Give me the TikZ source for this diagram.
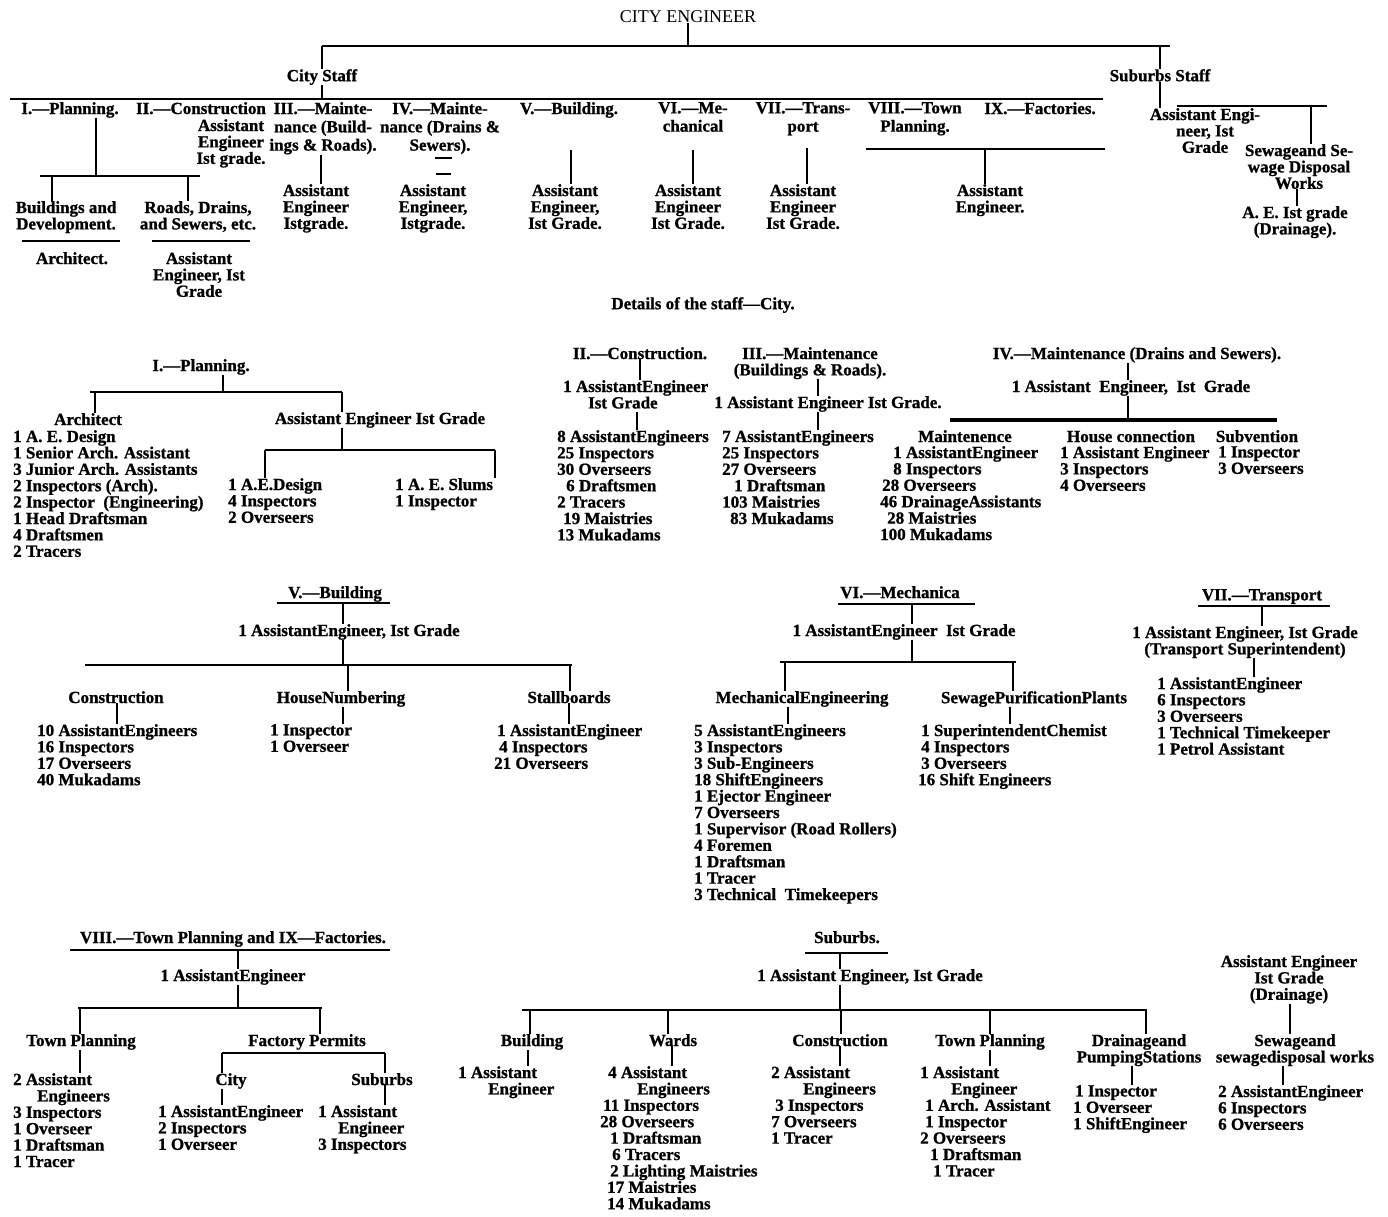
\documentclass[tikz,border=0pt]{standalone}
\usepackage{fontspec}
\setmainfont{Liberation Serif}[BoldFeatures={FakeBold=1}]
\tikzset{
 lbl/.style={inner sep=0pt, font=\fontsize{17}{16.4}\selectfont\bfseries, align=center, anchor=north},
 hdr/.style={lbl, font=\fontsize{17}{18.3}\selectfont\bfseries},
 lst/.style={lbl, align=left, anchor=north west},
 ln/.style={line width=2pt},
 bus/.style={line width=2.6pt},
}
\begin{document}
\begin{tikzpicture}[x=1pt,y=-1pt]
\path[use as bounding box, fill=white] (0,0) rectangle (1388,1216);

% ================= TOP CHART =================
\node[inner sep=0pt, font=\fontsize{18}{20}\selectfont] (ce) at (688,17) {CITY ENGINEER};
\coordinate (tl) at (322,46); \coordinate (tr) at (1170,46);
\draw[bus] (tl) -- (tr);
\draw[ln] (ce.south) -- (ce.south |- tl);
\node[lbl] (cs) at (322,69) {City Staff};
\node[lbl] (ss) at (1160,69) {Suburbs Staff};
\draw[ln] (tl) -- (cs.north);
\draw[ln] (ss.north |- tr) -- (ss.north);
\coordinate (cl) at (10,99); \coordinate (cr) at (1103,99);
\draw[bus] (cl) -- (cr);
\draw[ln] (cs.south) -- (cs.south |- cl);

\node[hdr] (d1) at (70,102) {I.—Planning.};
\node[hdr] (d2) at (201,102) {II.—Construction};
\node[lbl] (d2a) at (231,119) {Assistant\\Engineer\\Ist grade.};
\node[hdr] (d3) at (323,102) {III.—Mainte-\\nance (Build-\\ings \& Roads).};
\node[hdr] (d4) at (440,102) {IV.—Mainte-\\nance (Drains \&\\Sewers).};
\node[hdr] (d5) at (569,102) {V.—Building.};
\node[hdr] (d6) at (693,102) {VI.—Me-\\chanical};
\node[hdr] (d7) at (803,102) {VII.—Trans-\\port};
\node[hdr] (d8) at (915,102) {VIII.—Town\\Planning.};
\node[hdr] (d9) at (1040,102) {IX.—Factories.};

% I. Planning
\coordinate (p1j) at (96,176); \coordinate (p1l) at (40,176); \coordinate (p1r) at (200,176);
\coordinate (p1a) at (52,176); \coordinate (p1b) at (188,176);
\draw[ln] (p1j |- d1.south) -- (p1j);
\draw[bus] (p1l) -- (p1r);
\node[lbl] (bd) at (66,201) {Buildings and\\Development.};
\node[lbl] (rd) at (198,201) {Roads, Drains,\\and Sewers, etc.};
\draw[ln] (p1a) -- (p1a |- bd.north);
\draw[ln] (p1b) -- (p1b |- rd.north);
\coordinate (u1a) at (22,241); \coordinate (u1b) at (120,241);
\coordinate (u2a) at (152,241); \coordinate (u2b) at (250,241);
\draw[ln] (u1a) -- (u1b);
\draw[ln] (u2a) -- (u2b);
\node[lbl] (arch) at (72,252) {Architect.};
\node[lbl] (ae1) at (199,252) {Assistant\\Engineer, Ist\\Grade};

% III
\node[lbl] (ae3) at (316,184) {Assistant\\Engineer\\Istgrade.};
\coordinate (v3) at (321,150);
\draw[ln] (v3 |- d3.south) -- (v3 |- ae3.north);
% IV
\coordinate (k1a) at (435,158); \coordinate (k1b) at (452,158);
\coordinate (k2a) at (436,174); \coordinate (k2b) at (451,174);
\draw[ln] (k1a) -- (k1b);
\draw[line width=1.4pt] (k2a) -- (k2b);
\node[lbl] (ae4) at (433,184) {Assistant\\Engineer,\\Istgrade.};
% V
\node[lbl] (ae5) at (565,184) {Assistant\\Engineer,\\Ist Grade.};
\coordinate (v5) at (571,150);
\draw[ln] (v5) -- (v5 |- ae5.north);
% VI
\node[lbl] (ae6) at (688,184) {Assistant\\Engineer\\Ist Grade.};
\coordinate (v6) at (693,150);
\draw[ln] (v6) -- (v6 |- ae6.north);
% VII
\node[lbl] (ae7) at (803,184) {Assistant\\Engineer\\Ist Grade.};
\coordinate (v7) at (807,148);
\draw[ln] (v7) -- (v7 |- ae7.north);
% VIII / IX
\coordinate (b89l) at (866,149); \coordinate (b89r) at (1105,149);
\draw[bus] (b89l) -- (b89r);
\node[lbl] (ae89) at (990,184) {Assistant\\Engineer.};
\coordinate (v89) at (985,149);
\draw[ln] (v89) -- (v89 |- ae89.north);

% Suburbs staff
\node[lbl] (sae) at (1205,108) {Assistant Engi-\\neer, Ist\\Grade};
\draw[ln] (ss.south) -- (ss.south |- sae.north);
\coordinate (sbl) at (1177,106); \coordinate (sbr) at (1327,106); \coordinate (sbj) at (1311,106);
\draw[bus] (sbl) -- (sbr);
\node[lbl] (ssw) at (1299,144) {Sewageand Se-\\wage Disposal\\Works};
\draw[ln] (sbj) -- (sbj |- ssw.north);
\node[lbl] (sdr) at (1295,206) {A. E. Ist grade\\(Drainage).};
\draw[ln] ([xshift=-2pt]ssw.south) -- ([xshift=-2pt]ssw.south |- sdr.north);

\node[lbl] (det) at (703,297) {Details of the staff—City.};

% ================= I. PLANNING =================
\node[lbl] (s1h) at (201,359) {I.—Planning.};
\coordinate (s1j) at (223,392); \coordinate (s1l) at (90,392); \coordinate (s1r) at (342,392);
\coordinate (s1a) at (95,392);
\draw[ln] (s1j |- s1h.south) -- (s1j);
\draw[bus] (s1l) -- (s1r);
\node[lbl] (arc2) at (88,413) {Architect};
\draw[ln] (s1a) -- (s1a |- arc2.north);
\node[lst] (l1) at (13,430) {1 A. E. Design\\1 Senior Arch. Assistant\\3 Junior Arch. Assistants\\2 Inspectors (Arch).\\2 Inspector~~(Engineering)\\1 Head Draftsman\\4 Draftsmen\\2 Tracers};
\node[lbl] (aeg) at (380,412) {Assistant Engineer Ist Grade};
\draw[ln] (s1r) -- (s1r |- aeg.north);
\coordinate (s2j) at (342,450); \coordinate (s2l) at (265,450); \coordinate (s2r) at (495,450);
\draw[ln] (s2j |- aeg.south) -- (s2j);
\draw[bus] (s2l) -- (s2r);
\node[lst] (l2) at (228,478) {1 A.E.Design\\4 Inspectors\\2 Overseers};
\node[lst] (l3) at (395,478) {1 A. E. Slums\\1 Inspector};
\draw[ln] (s2l) -- (s2l |- l2.north);
\draw[ln] (s2r) -- (s2r |- l3.north);

% ================= II. CONSTRUCTION =================
\node[lbl] (s2h) at (640,347) {II.—Construction.};
\node[lst] (s2a) at (563,380) {1 AssistantEngineer\\\hspace*{25pt}Ist Grade};
\draw[ln] (s2h.south) -- (s2h.south |- s2a.north);
\node[lst] (l4) at (557,430) {8 AssistantEngineers\\25 Inspectors\\30 Overseers\\\hspace*{9pt}6 Draftsmen\\2 Tracers\\\hspace*{6pt}19 Maistries\\13 Mukadams};
\coordinate (v2b) at (637,412);
\draw[ln] (v2b) -- (v2b |- l4.north);

% ================= III. MAINTENANCE =================
\node[lbl] (s3h) at (810,347) {III.—Maintenance\\(Buildings \& Roads).};
\node[lbl] (s3a) at (828,396) {1 Assistant Engineer Ist Grade.};
\coordinate (v3a) at (818,380);
\draw[ln] (v3a |- s3h.south) -- (v3a |- s3a.north);
\node[lst] (l5) at (722,430) {7 AssistantEngineers\\25 Inspectors\\27 Overseers\\\hspace*{12pt}1 Draftsman\\103 Maistries\\\hspace*{8pt}83 Mukadams};
\draw[ln] (v3a |- s3a.south) -- (v3a |- l5.north);

% ================= IV. MAINTENANCE D&S =================
\node[lbl] (s4h) at (1137,347) {IV.—Maintenance (Drains and Sewers).};
\node[lbl] (s4a) at (1131,380) {1 Assistant~~Engineer,~~Ist~~Grade};
\coordinate (b4j) at (1128,420); \coordinate (b4l) at (950,420); \coordinate (b4r) at (1277,420);
\draw[ln] (b4j |- s4h.south) -- (b4j |- s4a.north);
\draw[ln] (b4j |- s4a.south) -- (b4j);
\draw[line width=3.2pt] (b4l) -- (b4r);
\node[lbl] (m1) at (965,430) {Maintenence};
\node[lst] (l6) at (880,446) {\hspace*{13pt}1 AssistantEngineer\\\hspace*{13pt}8 Inspectors\\\hspace*{2pt}28 Overseers\\46 DrainageAssistants\\\hspace*{7pt}28 Maistries\\100 Mukadams};
\node[lbl] (m2) at (1131,430) {House connection};
\node[lst] (l7) at (1060,446) {1 Assistant Engineer\\3 Inspectors\\4 Overseers};
\node[lbl] (m3) at (1257,430) {Subvention};
\node[lst] (l8) at (1218,446) {1 Inspector\\3 Overseers};

% ================= V. BUILDING =================
\node[lbl] (s5h) at (335,586) {V.—Building};
\coordinate (u5a) at (277,603); \coordinate (u5b) at (390,603); \coordinate (v5a) at (343,603);
\draw[ln] (u5a) -- (u5b);
\node[lbl] (s5a) at (349,624) {1 AssistantEngineer, Ist Grade};
\draw[ln] (v5a) -- (v5a |- s5a.north);
\coordinate (b5j) at (343,665); \coordinate (b5l) at (85,665); \coordinate (b5r) at (572,665);
\coordinate (b5a) at (348,665); \coordinate (b5b) at (570,665);
\draw[ln] (b5j |- s5a.south) -- (b5j);
\draw[bus] (b5l) -- (b5r);
\node[lbl] (c1) at (116,691) {Construction};
\node[lst] (l9) at (37,724) {10 AssistantEngineers\\16 Inspectors\\17 Overseers\\40 Mukadams};
\draw[ln] ([xshift=1pt]c1.south) -- ([xshift=1pt]c1.south |- l9.north);
\node[lbl] (c2) at (341,691) {HouseNumbering};
\draw[ln] (b5a) -- (b5a |- c2.north);
\node[lst] (l10) at (270,724) {1 Inspector\\1 Overseer};
\draw[ln] ([xshift=2pt]c2.south) -- ([xshift=2pt]c2.south |- l10.north);
\node[lbl] (c3) at (569,691) {Stallboards};
\draw[ln] (b5b) -- (b5b |- c3.north);
\node[lst] (l11) at (494,724) {\hspace*{3pt}1 AssistantEngineer\\\hspace*{5pt}4 Inspectors\\21 Overseers};
\draw[ln] (c3.south) -- (c3.south |- l11.north);

% ================= VI. MECHANICAL =================
\node[lbl] (s6h) at (900,586) {VI.—Mechanica};
\coordinate (u6a) at (838,604); \coordinate (u6b) at (975,604); \coordinate (v6a) at (912,604);
\draw[ln] (u6a) -- (u6b);
\node[lbl] (s6a) at (904,624) {1 AssistantEngineer~~Ist Grade};
\draw[ln] (v6a) -- (v6a |- s6a.north);
\coordinate (b6j) at (912,662); \coordinate (b6l) at (780,662); \coordinate (b6r) at (1016,662);
\coordinate (b6a) at (785,662); \coordinate (b6b) at (1013,662);
\draw[ln] (b6j |- s6a.south) -- (b6j);
\draw[bus] (b6l) -- (b6r);
\node[lbl] (c4) at (802,691) {MechanicalEngineering};
\draw[ln] (b6a) -- (b6a |- c4.north);
\node[lst] (l12) at (694,724) {5 AssistantEngineers\\3 Inspectors\\3 Sub-Engineers\\18 ShiftEngineers\\1 Ejector Engineer\\7 Overseers\\1 Supervisor (Road Rollers)\\4 Foremen\\1 Draftsman\\1 Tracer\\3 Technical~~Timekeepers};
\coordinate (v6c) at (788,705);
\draw[ln] (v6c |- c4.south) -- (v6c |- l12.north);
\node[lbl] (c5) at (1034,691) {SewagePurificationPlants};
\draw[ln] (b6b) -- (b6b |- c5.north);
\node[lst] (l13) at (918,724) {\hspace*{3pt}1 SuperintendentChemist\\\hspace*{3pt}4 Inspectors\\\hspace*{3pt}3 Overseers\\16 Shift Engineers};
\coordinate (v6d) at (1010,705);
\draw[ln] (v6d |- c5.south) -- (v6d |- l13.north);

% ================= VII. TRANSPORT =================
\node[lbl] (s7h) at (1262,589) {VII.—Transport};
\coordinate (u7a) at (1198,606); \coordinate (u7b) at (1330,606); \coordinate (v7a) at (1262,606);
\draw[ln] (u7a) -- (u7b);
\node[lbl] (s7a) at (1245,626) {1 Assistant Engineer, Ist Grade\\(Transport Superintendent)};
\draw[ln] (v7a) -- (v7a |- s7a.north);
\node[lst] (l14) at (1157,677) {1 AssistantEngineer\\6 Inspectors\\3 Overseers\\1 Technical Timekeeper\\1 Petrol Assistant};
\coordinate (v7b) at (1254,660);
\draw[ln] (v7b |- s7a.south) -- (v7b |- l14.north);

% ================= VIII / IX =================
\node[lbl] (s8h) at (233,931) {VIII.—Town Planning and IX—Factories.};
\coordinate (u8a) at (70,950); \coordinate (u8b) at (390,950); \coordinate (v8a) at (238,950);
\draw[ln] (u8a) -- (u8b);
\node[lbl] (s8a) at (233,969) {1 AssistantEngineer};
\draw[ln] (v8a) -- (v8a |- s8a.north);
\coordinate (b8j) at (238,1008); \coordinate (b8l) at (78,1008); \coordinate (b8r) at (322,1008);
\coordinate (b8a) at (80,1008); \coordinate (b8b) at (320,1008);
\draw[ln] (b8j |- s8a.south) -- (b8j);
\draw[bus] (b8l) -- (b8r);
\node[lbl] (c6) at (81,1034) {Town Planning};
\draw[ln] (b8a) -- (b8a |- c6.north);
\node[lst] (l15) at (13,1073) {2 Assistant\\\hspace*{24pt}Engineers\\3 Inspectors\\1 Overseer\\1 Draftsman\\1 Tracer};
\draw[ln] (b8a |- c6.south) -- (b8a |- l15.north);
\node[lbl] (c7) at (307,1034) {Factory Permits};
\draw[ln] (b8b) -- (b8b |- c7.north);
\coordinate (f7l) at (222,1053); \coordinate (f7r) at (385,1053);
\draw[ln] (f7l) -- (f7r);
\node[lbl] (c8) at (231,1073) {City};
\node[lbl] (c9) at (382,1073) {Suburbs};
\draw[ln] (f7l) -- (f7l |- c8.north);
\draw[ln] (f7r) -- (f7r |- c9.north);
\node[lst] (l16) at (158,1105) {1 AssistantEngineer\\2 Inspectors\\1 Overseer};
\node[lst] (l17) at (318,1105) {1 Assistant\\\hspace*{20pt}Engineer\\3 Inspectors};
\draw[ln] (f7l |- c8.south) -- (f7l |- l16.north);
\draw[ln] (f7r |- c9.south) -- (f7r |- l17.north);

% ================= SUBURBS =================
\node[lbl] (s9h) at (847,931) {Suburbs.};
\coordinate (u9a) at (805,953); \coordinate (u9b) at (888,953); \coordinate (v9a) at (840,953);
\draw[ln] (u9a) -- (u9b);
\node[lbl] (s9a) at (870,969) {1 Assistant Engineer, Ist Grade};
\draw[ln] (v9a) -- (v9a |- s9a.north);
\coordinate (b9j) at (840,1010); \coordinate (b9l) at (522,1010); \coordinate (b9r) at (1147,1010);
\coordinate (b9a) at (530,1010); \coordinate (b9b) at (668,1010); \coordinate (b9c) at (841,1010);
\coordinate (b9d) at (990,1010); \coordinate (b9e) at (1146,1010);
\draw[ln] (b9j |- s9a.south) -- (b9j);
\draw[bus] (b9l) -- (b9r);
\node[lbl] (c10) at (532,1034) {Building};
\node[lbl] (c11) at (673,1034) {Wards};
\node[lbl] (c12) at (840,1034) {Construction};
\node[lbl] (c13) at (990,1034) {Town Planning};
\node[lbl] (c14) at (1139,1034) {Drainageand\\PumpingStations};
\draw[ln] (b9a) -- (b9a |- c10.north);
\draw[ln] (b9b) -- (b9b |- c11.north);
\draw[ln] (b9c) -- (b9c |- c12.north);
\draw[ln] (b9d) -- (b9d |- c13.north);
\draw[ln] (b9e) -- (b9e |- c14.north);
\node[lst] (l18) at (458,1066) {1 Assistant\\\hspace*{30pt}Engineer};
\node[lst] (l19) at (600,1066) {\hspace*{8pt}4 Assistant\\\hspace*{37pt}Engineers\\\hspace*{3pt}11 Inspectors\\28 Overseers\\\hspace*{10pt}1 Draftsman\\\hspace*{12pt}6 Tracers\\\hspace*{10pt}2 Lighting Maistries\\\hspace*{7pt}17 Maistries\\\hspace*{7pt}14 Mukadams};
\node[lst] (l20) at (771,1066) {2 Assistant\\\hspace*{32pt}Engineers\\\hspace*{4pt}3 Inspectors\\7 Overseers\\1 Tracer};
\node[lst] (l21) at (920,1066) {1 Assistant\\\hspace*{31pt}Engineer\\\hspace*{5pt}1 Arch. Assistant\\\hspace*{5pt}1 Inspector\\2 Overseers\\\hspace*{10pt}1 Draftsman\\\hspace*{13pt}1 Tracer};
\node[lst] (l22) at (1073,1085) {\hspace*{2pt}1 Inspector\\1 Overseer\\1 ShiftEngineer};
\coordinate (x10) at (528,1050); \coordinate (x11) at (672,1050); \coordinate (x12) at (840,1050);
\coordinate (x13) at (990,1050); \coordinate (x14) at (1132,1050);
\draw[ln] (x10 |- c10.south) -- (x10 |- l18.north);
\draw[ln] (x11 |- c11.south) -- (x11 |- l19.north);
\draw[ln] (x12 |- c12.south) -- (x12 |- l20.north);
\draw[ln] (x13 |- c13.south) -- (x13 |- l21.north);
\draw[ln] (x14 |- c14.south) -- (x14 |- l22.north);

\node[lbl] (c15) at (1289,955) {Assistant Engineer\\Ist Grade\\(Drainage)};
\node[lbl] (c16) at (1295,1034) {Sewageand\\sewagedisposal works};
\coordinate (x15) at (1290,1000);
\draw[ln] (x15 |- c15.south) -- (x15 |- c16.north);
\node[lst] (l23) at (1218,1085) {2 AssistantEngineer\\6 Inspectors\\6 Overseers};
\coordinate (x16) at (1283,1070);
\draw[ln] (x16 |- c16.south) -- (x16 |- l23.north);

\end{tikzpicture}
\end{document}
